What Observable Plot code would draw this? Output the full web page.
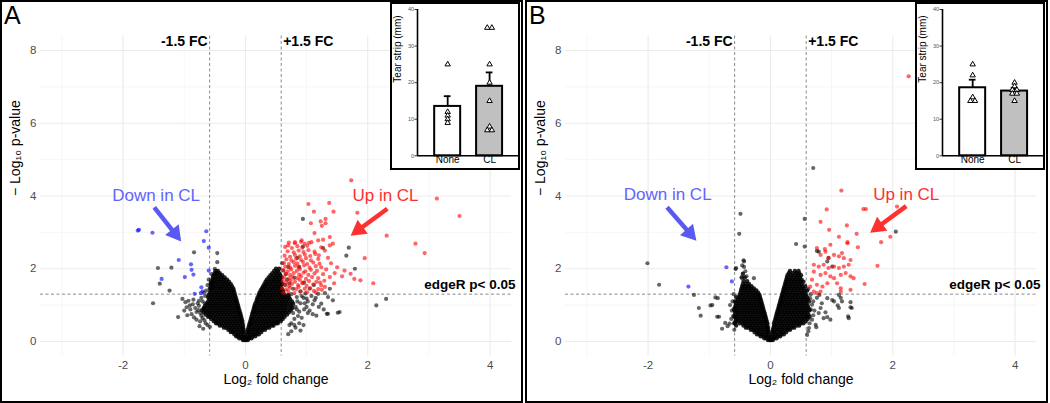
<!DOCTYPE html>
<html><head><meta charset="utf-8">
<script src="https://cdn.jsdelivr.net/npm/d3@7"></script>
<script src="https://cdn.jsdelivr.net/npm/@observablehq/plot@0.6"></script>
<style>
body{margin:0;background:#fff;font-family:'Liberation Sans',Arial,sans-serif}
#wrap{position:relative;width:1050px;height:403px;background:#fff}
.panel{position:absolute;top:0;width:523px;height:403px;border:2px solid #000;box-sizing:border-box;background:#fff}
.panel svg{position:absolute;left:0;top:0}
.letter{position:absolute;left:2px;top:1px;font-size:25px;line-height:25px;color:#000}
.inset{position:absolute;top:2px;width:130px;height:168px;border:2px solid #000;box-sizing:border-box;background:#fff}
.inset svg{position:absolute;left:0;top:0}
</style></head>
<body><div id="wrap"></div>
<script>
// ---------- DATA ----------
const fcLabel = 1.5, pLabel = 0.05;
const xTicks = [-2, 0, 2, 4];
const yTicks = [0, 2, 4, 6, 8];
const xMinor = [-3, -1, 1, 3];
const yMinor = [1, 3, 5, 7];

// Panel A - dense V cloud rows [y, [x...]] (black, not significant)
const aCloudRows = [
 [0.04,[-0.01,-0.04,0.01,0.04]],
 [0.09,[-0.02,-0.06,-0.1,0.02,0.06,0.1]],
 [0.14,[-0.02,-0.07,-0.12,-0.15,0.02,0.07,0.12,0.16]],
 [0.2,[-0.03,-0.08,-0.13,-0.18,0.03,0.08,0.13,0.18,0.22]],
 [0.26,[-0.03,-0.06,-0.11,-0.16,-0.21,-0.24,0.03,0.06,0.11,0.16,0.21,0.26]],
 [0.32,[-0.03,-0.08,-0.13,-0.18,-0.23,-0.28,0.04,0.08,0.13,0.18,0.23,0.28,0.32]],
 [0.38,[-0.04,-0.06,-0.11,-0.16,-0.21,-0.26,-0.31,-0.35,0.05,0.1,0.15,0.2,0.25,0.3,0.35,0.39]],
 [0.44,[-0.04,-0.08,-0.13,-0.18,-0.23,-0.28,-0.33,-0.38,-0.42,0.06,0.08,0.13,0.18,0.23,0.28,0.33,0.38,0.43,0.46]],
 [0.5,[-0.05,-0.1,-0.15,-0.2,-0.25,-0.3,-0.35,-0.4,-0.45,-0.48,0.07,0.1,0.15,0.2,0.25,0.3,0.35,0.4,0.45,0.5,0.53]],
 [0.56,[-0.05,-0.08,-0.13,-0.18,-0.23,-0.28,-0.33,-0.38,-0.43,-0.48,-0.52,0.08,0.13,0.18,0.23,0.28,0.33,0.38,0.43,0.48,0.53,0.58]],
 [0.62,[-0.06,-0.1,-0.15,-0.2,-0.25,-0.3,-0.35,-0.4,-0.45,-0.5,-0.56,0.09,0.11,0.16,0.21,0.26,0.31,0.36,0.41,0.46,0.51,0.56,0.61]],
 [0.68,[-0.07,-0.12,-0.17,-0.22,-0.27,-0.32,-0.37,-0.42,-0.47,-0.52,-0.57,-0.61,0.1,0.14,0.19,0.24,0.29,0.34,0.39,0.44,0.49,0.54,0.59,0.64]],
 [0.74,[-0.08,-0.1,-0.15,-0.2,-0.25,-0.3,-0.35,-0.4,-0.45,-0.5,-0.55,-0.6,-0.65,0.11,0.17,0.22,0.27,0.32,0.37,0.42,0.47,0.52,0.57,0.62,0.68]],
 [0.8,[-0.09,-0.13,-0.18,-0.23,-0.28,-0.33,-0.38,-0.43,-0.48,-0.53,-0.58,-0.63,-0.68,0.12,0.15,0.2,0.25,0.3,0.35,0.4,0.45,0.5,0.55,0.6,0.65,0.71]],
 [0.86,[-0.1,-0.15,-0.2,-0.25,-0.3,-0.35,-0.4,-0.45,-0.5,-0.55,-0.6,-0.66,-0.71,0.13,0.18,0.23,0.28,0.33,0.38,0.43,0.48,0.53,0.58,0.63,0.68,0.74]],
 [0.92,[-0.11,-0.13,-0.18,-0.23,-0.28,-0.33,-0.38,-0.43,-0.48,-0.53,-0.58,-0.63,-0.68,0.14,0.16,0.21,0.26,0.31,0.36,0.41,0.46,0.51,0.56,0.61,0.66,0.72,0.77]],
 [0.98,[-0.12,-0.16,-0.21,-0.26,-0.31,-0.36,-0.41,-0.46,-0.51,-0.56,-0.61,-0.66,0.15,0.19,0.24,0.29,0.34,0.39,0.44,0.49,0.54,0.59,0.64,0.69,0.75]],
 [1.04,[-0.13,-0.18,-0.23,-0.28,-0.33,-0.38,-0.43,-0.48,-0.53,-0.58,-0.63,0.16,0.22,0.27,0.32,0.37,0.42,0.47,0.52,0.57,0.62,0.67,0.73,0.78]],
 [1.1,[-0.14,-0.16,-0.21,-0.26,-0.31,-0.36,-0.41,-0.46,-0.51,-0.56,-0.61,0.18,0.2,0.25,0.3,0.35,0.4,0.45,0.5,0.55,0.6,0.65,0.7,0.76]],
 [1.16,[-0.15,-0.19,-0.24,-0.29,-0.34,-0.39,-0.44,-0.49,-0.54,-0.59,0.19,0.23,0.28,0.33,0.38,0.43,0.48,0.53,0.58,0.63,0.68,0.73]],
 [1.22,[-0.16,-0.21,-0.26,-0.31,-0.36,-0.41,-0.46,-0.51,-0.56,-0.61,0.2,0.26,0.31,0.36,0.41,0.46,0.51,0.56,0.61,0.66,0.71]],
 [1.28,[-0.17,-0.2,-0.25,-0.3,-0.35,-0.4,-0.45,-0.5,-0.55,-0.6,0.22,0.24,0.29,0.34,0.39,0.44,0.49,0.54,0.59,0.64,0.7]],
 [1.34,[-0.18,-0.23,-0.28,-0.33,-0.38,-0.43,-0.48,-0.53,-0.58,0.23,0.27,0.32,0.37,0.42,0.47,0.52,0.57,0.62]],
 [1.4,[-0.19,-0.22,-0.27,-0.32,-0.37,-0.42,-0.47,-0.52,-0.57,0.25,0.3,0.35,0.4,0.45,0.5,0.55,0.6]],
 [1.46,[-0.2,-0.25,-0.3,-0.35,-0.4,-0.45,-0.5,-0.55,-0.58,0.27,0.29,0.34,0.39,0.44,0.49,0.54,0.59]],
 [1.52,[-0.22,-0.27,-0.32,-0.37,-0.42,-0.47,-0.52,-0.56,0.29,0.32,0.37,0.42,0.47,0.52,0.57]],
 [1.58,[-0.24,-0.29,-0.34,-0.39,-0.44,-0.49,-0.54,-0.57,0.31,0.35,0.4,0.45,0.5,0.55,0.6]],
 [1.64,[-0.27,-0.32,-0.37,-0.42,-0.47,-0.52,-0.56,0.33,0.38,0.43,0.48,0.53,0.58]],
 [1.7,[-0.3,-0.35,-0.4,-0.45,-0.5,-0.54,0.35,0.41,0.46,0.51,0.56]],
 [1.76,[-0.34,-0.39,-0.44,-0.49,-0.53,0.38,0.44,0.49,0.54,0.59]],
 [1.82,[-0.38,-0.43,-0.48,-0.52,0.41,0.47,0.52,0.57]],
 [1.88,[-0.42,-0.46,-0.5,0.44,0.5,0.55]],
 [1.94,[-0.45,-0.49,0.47,0.53]],
 [2.0,[0.5,0.55]]
];
const aBlackOut = [[-0.84,2.45],[-0.46,2.43],[-0.46,2.18],[-1.43,2.02],[-1.21,2.03],[-1.40,1.59],[-1.24,1.40],[-1.51,1.05],[-1.10,0.67],[-0.75,0.42],[-1.03,1.17],[-0.91,0.99],[-0.96,0.94],[-0.80,0.81],[-0.72,0.71],[-0.68,0.9],[-0.7,1.1],[-0.66,1.25],[-0.64,1.4],[-0.62,1.55],[-0.6,1.7],[-0.55,1.85],[-0.5,2.0],[-0.85,1.15],[-0.78,1.05],[-0.74,0.55],[-0.8,0.6],[-0.88,0.75],[-0.69,0.35],[-0.76,0.98],[-0.72,1.2],[-0.65,0.5],
 [-0.98,1.08],[-0.93,1.12],[-0.86,1.02],[-0.82,0.92],[-0.77,0.86],[-0.74,0.78],[-0.7,0.64],[-0.67,0.58],[-0.62,0.45],[-0.58,0.4],[-0.9,0.88],[-1.0,0.85],[-0.95,0.72],[-0.84,0.66],[-0.76,1.12],[-0.68,1.34],[-0.66,1.05],
 [0.94,3.37],[1.27,2.57],[1.69,2.58],[1.65,2.36],[1.79,2.0],[2.14,0.99],[2.30,1.17],[1.51,0.79],[1.33,0.76],[1.16,0.71],[1.38,1.45],[1.30,1.33],[1.35,1.22],[1.19,1.31],[1.13,1.13],[1.24,1.04],[1.35,0.76],[1.54,0.81],[1.43,1.13],[0.94,2.61],[0.85,2.3],[0.95,1.2],[1.02,1.1],[1.08,1.25],[1.0,0.95],[1.05,0.85],[1.1,0.75],[0.92,0.65],[0.88,0.5],[0.95,0.45],[0.82,0.38],[0.9,0.3],[0.75,0.28],[0.7,0.2],[1.2,0.95],[1.28,0.88],[0.98,1.32],[0.9,1.38],[0.78,1.45],[0.72,1.6],[0.68,1.7],[0.8,1.75],[0.66,1.85],[0.62,1.95],[0.7,2.05],[0.6,2.15],[0.88,2.05],[1.05,1.45],[1.12,1.55],[0.96,1.62],[0.75,1.3],[0.62,1.4],[0.65,1.55],[0.85,1.1],[0.82,0.95],[0.88,0.82],[0.8,0.62],[0.75,0.5],
 [0.84,1.22],[0.9,1.05],[0.96,0.88],[1.02,0.78],[0.86,0.7],[0.78,0.78],[0.72,0.45],[0.8,0.45],[0.92,1.25],[1.0,1.18],[1.15,1.2],[1.1,1.02],[0.97,1.05],[0.84,0.88]];
const aRed = [[0.62,1.34],[0.7,1.38],[0.8,1.33],[0.9,1.37],[1.01,1.35],[1.12,1.39],
 [0.6,1.46],[0.67,1.43],[0.73,1.48],[0.83,1.44],[0.87,1.5],[0.97,1.45],[1.06,1.47],[1.19,1.44],
 [0.64,1.56],[0.71,1.53],[0.76,1.58],[0.86,1.55],[0.93,1.6],[1.0,1.53],[1.11,1.57],[1.24,1.54],
 [0.61,1.66],[0.67,1.63],[0.74,1.68],[0.81,1.64],[0.89,1.69],[0.94,1.62],[1.04,1.66],[1.16,1.64],[1.29,1.67],
 [0.63,1.76],[0.71,1.73],[0.77,1.78],[0.85,1.74],[0.91,1.79],[0.99,1.72],[1.09,1.77],[1.19,1.74],
 [0.66,1.86],[0.73,1.83],[0.79,1.88],[0.88,1.84],[0.95,1.89],[1.03,1.83],[1.13,1.87],[1.27,1.85],
 [0.61,1.96],[0.69,1.93],[0.75,1.98],[0.84,1.94],[0.89,1.99],[0.98,1.93],[1.07,1.97],[1.17,1.94],
 [0.65,2.06],[0.73,2.03],[0.81,2.08],[0.87,2.04],[0.96,2.09],[1.05,2.03],[1.15,2.07],[1.24,2.04],
 [0.63,2.16],[0.71,2.13],[0.79,2.18],[0.85,2.14],[0.94,2.19],[1.01,2.13],[1.11,2.17],[1.21,2.14],
 [0.67,2.26],[0.75,2.23],[0.83,2.28],[0.91,2.24],[0.99,2.29],[1.07,2.23],[1.19,2.27],
 [0.64,2.36],[0.73,2.33],[0.81,2.38],[0.89,2.34],[0.97,2.39],[1.06,2.35],[1.2,2.37],
 [0.69,2.48],[0.79,2.45],[0.87,2.5],[0.95,2.46],[1.03,2.51],[1.13,2.47],
 [0.65,2.6],[0.76,2.57],[0.85,2.62],[0.93,2.58],[1.01,2.63],
 [0.71,2.72],[0.81,2.7],[0.91,2.74],[1.04,2.71],
 [1.73,4.43],[3.13,3.93],[3.50,3.45],[1.03,3.78],[1.37,3.81],[1.12,3.57],[1.44,3.57],[1.83,3.54],[1.07,3.25],[1.23,3.30],[1.31,3.37],[1.31,3.25],[1.25,3.18],[1.13,2.98],[2.31,2.91],[2.78,2.69],[2.93,2.43],[1.95,2.29],[2.09,1.60],[1.88,1.68],[1.72,1.86],[1.78,1.72],[1.58,1.79],[1.62,1.95],[1.50,2.04],[1.46,1.88],[1.38,1.77],[1.38,2.87],[1.27,2.80],[1.43,2.69],[1.30,2.50],[1.19,2.78],[1.08,2.73],[0.97,2.69],[0.92,2.78],[0.81,2.73],[0.70,2.64],[1.38,2.64],[1.24,2.59],[1.14,2.41],[1.35,2.3],[1.4,2.15],[1.32,1.98],[1.45,1.6],[1.3,1.5],[1.25,1.42],[1.15,1.35],[1.22,1.62]];
const aBlue = [[-1.76,3.05],[-1.74,3.07],[-1.52,2.99],[-0.64,3.03],[-0.68,2.76],[-0.60,2.58],[-1.09,2.24],[-0.89,2.12],[-0.88,1.97],[-0.85,1.84],[-0.99,1.77],[-0.60,1.95],[-1.37,1.72],[-0.72,1.49],[-0.83,1.31],[-0.73,1.33],[-0.70,1.38]];

// Panel B
const bCloudRows = [
 [0.04,[-0.01,-0.04,0.01,0.04]],
 [0.09,[-0.02,-0.06,-0.1,0.02,0.06,0.1]],
 [0.14,[-0.02,-0.07,-0.12,-0.16,0.02,0.07,0.12,0.16]],
 [0.2,[-0.03,-0.08,-0.13,-0.18,-0.22,0.03,0.08,0.13,0.18,0.22]],
 [0.26,[-0.03,-0.06,-0.11,-0.16,-0.21,-0.26,0.03,0.06,0.11,0.16,0.21,0.26]],
 [0.32,[-0.04,-0.08,-0.13,-0.18,-0.23,-0.28,-0.32,0.04,0.08,0.13,0.18,0.23,0.28,0.32]],
 [0.38,[-0.04,-0.06,-0.11,-0.16,-0.21,-0.26,-0.31,-0.36,-0.4,0.05,0.1,0.15,0.2,0.25,0.3,0.35,0.39]],
 [0.44,[-0.05,-0.09,-0.14,-0.19,-0.24,-0.29,-0.34,-0.39,-0.44,-0.56,0.06,0.08,0.13,0.18,0.23,0.28,0.33,0.38,0.43,0.47]],
 [0.5,[-0.05,-0.1,-0.15,-0.2,-0.25,-0.3,-0.35,-0.4,-0.45,-0.5,-0.58,0.06,0.1,0.15,0.2,0.25,0.3,0.35,0.4,0.45,0.5,0.54]],
 [0.56,[-0.06,-0.08,-0.13,-0.18,-0.23,-0.28,-0.33,-0.38,-0.43,-0.48,-0.53,-0.57,0.07,0.13,0.18,0.23,0.28,0.33,0.38,0.43,0.48,0.53,0.58]],
 [0.62,[-0.07,-0.11,-0.16,-0.21,-0.26,-0.31,-0.36,-0.41,-0.46,-0.51,-0.56,0.08,0.11,0.16,0.21,0.26,0.31,0.36,0.41,0.46,0.51,0.56,0.61]],
 [0.68,[-0.08,-0.1,-0.15,-0.2,-0.25,-0.3,-0.35,-0.4,-0.45,-0.5,-0.55,-0.59,0.09,0.14,0.19,0.24,0.29,0.34,0.39,0.44,0.49,0.54,0.59,0.64]],
 [0.74,[-0.09,-0.13,-0.18,-0.23,-0.28,-0.33,-0.38,-0.43,-0.48,-0.53,-0.58,0.1,0.12,0.17,0.22,0.27,0.32,0.37,0.42,0.47,0.52,0.57,0.62]],
 [0.8,[-0.1,-0.12,-0.17,-0.22,-0.27,-0.32,-0.37,-0.42,-0.47,-0.52,-0.57,0.11,0.15,0.2,0.25,0.3,0.35,0.4,0.45,0.5,0.55,0.6]],
 [0.86,[-0.11,-0.15,-0.2,-0.25,-0.3,-0.35,-0.4,-0.45,-0.5,-0.55,-0.59,0.12,0.14,0.19,0.24,0.29,0.34,0.39,0.44,0.49,0.54,0.59,0.64]],
 [0.92,[-0.12,-0.14,-0.19,-0.24,-0.29,-0.34,-0.39,-0.44,-0.49,-0.54,-0.58,0.13,0.17,0.22,0.27,0.32,0.37,0.42,0.47,0.52,0.57,0.62]],
 [0.98,[-0.13,-0.17,-0.22,-0.27,-0.32,-0.37,-0.42,-0.47,-0.52,-0.57,0.14,0.16,0.21,0.26,0.31,0.36,0.41,0.46,0.51,0.56,0.61]],
 [1.04,[-0.14,-0.16,-0.21,-0.26,-0.31,-0.36,-0.41,-0.46,-0.51,-0.56,0.15,0.19,0.24,0.29,0.34,0.39,0.44,0.49,0.54,0.59]],
 [1.1,[-0.15,-0.19,-0.24,-0.29,-0.34,-0.39,-0.44,-0.49,-0.54,-0.58,0.16,0.18,0.23,0.28,0.33,0.38,0.43,0.48,0.53,0.58,0.63]],
 [1.16,[-0.16,-0.18,-0.23,-0.28,-0.33,-0.38,-0.43,-0.48,-0.53,0.17,0.21,0.26,0.31,0.36,0.41,0.46,0.51,0.56,0.61]],
 [1.22,[-0.17,-0.21,-0.26,-0.31,-0.36,-0.41,-0.46,-0.51,-0.56,0.18,0.2,0.25,0.3,0.35,0.4,0.45,0.5,0.55,0.6]],
 [1.28,[-0.18,-0.2,-0.25,-0.3,-0.35,-0.4,-0.45,-0.5,0.19,0.23,0.28,0.33,0.38,0.43,0.48,0.53,0.58]],
 [1.34,[-0.2,-0.24,-0.29,-0.34,-0.39,-0.44,-0.49,0.2,0.22,0.27,0.32,0.37,0.42,0.47,0.52,0.57]],
 [1.4,[-0.23,-0.28,-0.33,-0.38,-0.43,-0.48,0.21,0.25,0.3,0.35,0.4,0.45,0.5,0.55,0.6]],
 [1.46,[-0.27,-0.32,-0.37,-0.42,-0.47,0.22,0.24,0.29,0.34,0.39,0.44,0.49,0.54]],
 [1.52,[-0.31,-0.36,-0.41,-0.46,0.23,0.27,0.32,0.37,0.42,0.47,0.52,0.57]],
 [1.58,[-0.35,-0.4,-0.45,0.24,0.26,0.31,0.36,0.41,0.46,0.51]],
 [1.64,[0.25,0.29,0.34,0.39,0.44,0.49,0.54]],
 [1.66,[-0.38,-0.44]],
 [1.7,[0.26,0.31,0.36,0.41,0.46,0.51]],
 [1.76,[-0.42,-0.47,0.27,0.33,0.38,0.43,0.48]],
 [1.82,[0.28,0.34,0.4,0.45,0.5]],
 [1.86,[-0.45]],
 [1.88,[0.3,0.36,0.42,0.47]],
 [1.94,[0.32,0.4,0.46]]
];
const bBlackOut = [[0.70,4.77],[-0.49,3.51],[-0.51,2.96],[-2.01,2.15],[-1.82,1.56],[-1.25,1.28],[-1.17,0.92],[-1.14,0.71],[-0.90,1.21],[-0.98,0.99],[-0.87,0.68],[-0.74,0.51],[-0.67,0.49],[0.56,3.37],[0.42,2.68],[0.56,2.61],[0.76,2.49],[0.93,2.20],[1.01,2.06],[2.05,3.02],[-0.56,2.02],[-0.44,2.23],[-0.46,2.09],[1.10,0.99],[1.31,1.08],[1.31,0.94],[1.27,0.69],[0.93,0.67],[0.75,0.39],[1.15,1.20],[1.01,1.14],[0.80,1.28],[1.12,1.28],[1.17,1.10],[1.33,0.92],[1.28,0.64],[0.98,0.60],[0.87,0.64],[0.82,0.92],[0.68,1.01],[0.65,1.19],[0.93,1.19],[1.04,1.10],[1.12,0.92],[0.74,0.46],[0.79,0.78],[0.60,0.69],[0.63,0.37],[0.60,0.18],[-0.57,1.99],[-0.43,2.05],[-0.41,1.93],[-0.39,1.79],[-0.27,1.74],[-0.43,2.2],[-0.95,1.0],[-0.86,1.19],[-0.84,0.68],[-0.6,1.3],[-0.62,1.1],[-0.6,0.9],[-0.61,0.7],[-0.6,0.5],[-0.59,0.32],[-0.79,0.35],[0.79,2.47],[0.95,2.3],[0.7,1.1],[0.72,0.85],[0.68,0.6],[0.66,1.3],[0.62,1.45],
 [0.66,0.88],[0.7,0.72],[0.64,0.5],[0.76,1.2],[0.84,1.05],[0.9,0.8],[0.62,0.28],[-0.64,0.62],[-0.63,0.85],[-0.66,1.0],[-0.7,0.42]];
const bRed = [[0.76,2.57],[0.82,2.38],[0.90,2.47],[0.95,2.29],[1.04,2.38],[1.12,2.34],[1.17,2.43],[1.20,2.29],[1.31,2.24],[0.71,2.11],[0.79,2.06],[0.87,2.11],[0.95,2.02],[1.04,2.06],[1.12,2.02],[1.20,2.06],[1.28,2.11],[1.23,1.88],[1.31,1.79],[1.36,1.74],[0.71,1.92],[0.82,1.83],[0.90,1.88],[0.98,1.79],[1.04,1.74],[1.15,1.83],[1.09,1.60],[0.93,1.60],[0.85,1.51],[0.76,1.56],[0.68,1.70],[0.65,1.51],[0.71,1.37],[0.82,1.37],[1.15,1.46],[1.31,1.42],[0.76,1.33],[1.15,1.37],
 [2.26,7.29],[1.16,4.15],[0.92,3.63],[1.52,3.64],[1.56,3.64],[2.07,3.71],[0.82,3.29],[1.25,3.19],[0.96,3.07],[1.41,2.96],[1.12,2.88],[1.26,2.73],[1.26,2.70],[1.81,2.73],[1.96,2.88],[1.43,2.59],[0.89,2.54],[0.98,2.66],[1.75,2.08],[1.54,1.58]];
const bBlue = [[-0.72,2.04],[-0.63,1.65],[-1.34,1.51]];

// annotations (data coordinates): label centres and arrows [x1,y1,x2,y2,colour]
const aNotes = {down: [-1.46, 4.0], up: [2.29, 4.0], arrows: [[-1.49,3.69,-1.05,2.75,"blue"],[2.32,3.65,1.72,2.91,"red"]]};
const bNotes = {down: [-1.68, 4.05], up: [2.22, 4.05], arrows: [[-1.69,3.69,-1.21,2.77,"blue"],[2.22,3.72,1.63,2.99,"red"]]};

// Inset bar charts (tear strip, mm)
const groups = ["None", "CL"];
const insetTicks = [0, 10, 20, 30, 40];
const aMean = [13.5, 19.0], aSem = [2.8, 3.8];
const aNone = [25, 12, 11, 10, 9], aCL = [35, 35, 25, 20, 15, 8, 7, 7];
const bMean = [18.6, 17.7], bSem = [2.2, 0.9];
const bNone = [25, 22, 16, 15, 15], bCL = [20, 19, 18, 18, 17, 17, 15];

// ---------- DRAWING ----------
const FC = Math.log2(fcLabel), PT = -Math.log10(pLabel);
const font = "'Liberation Sans', Arial, Helvetica, sans-serif";
const fromRows = rows => rows.flatMap(([y, xs]) => xs.map(x => ({x, y})));
const fromPairs = arr => arr.map(([x, y]) => ({x, y}));
const colors = {blue: "#5a5af2", red: "#ff3030"};

const VW = 519, VH = 399, ML = 38, MR = 10, MT = 33.5, MB = 45.5;
const XD = [-3.35, 4.35], YD = [-0.4, 8.4];
const kx = (VW - ML - MR) / (XD[1] - XD[0]), ky = (VH - MT - MB) / (YD[1] - YD[0]);
const HEAD_LEN = 15, HY = HEAD_LEN / 3;
const HEAD_R = HY * Math.sqrt(3 * Math.sqrt(3) / Math.PI);

function arrowParts(list) {
  return list.map(([x1, y1, x2, y2, c]) => {
    const px = (x2 - x1) * kx, py = -(y2 - y1) * ky, len = Math.hypot(px, py);
    const ux = px / len, uy = py / len;
    const cx = x2 - 2 * HY * ux / kx, cy = y2 + 2 * HY * uy / ky;
    return {x1, y1, cx, cy, c, rot: Math.atan2(ux, -uy) * 180 / Math.PI};
  });
}

function volcano(cloud, black, red, blue, notes) {
  const arrows = arrowParts(notes.arrows);
  return Plot.plot({
    width: VW, height: VH,
    marginLeft: ML, marginRight: MR, marginTop: MT, marginBottom: MB,
    style: {fontFamily: font, fontSize: "11.5px", background: "transparent", overflow: "visible"},
    x: {domain: XD},
    y: {domain: YD},
    marks: [
      Plot.ruleX(xMinor, {stroke: "#f4f4f4", strokeWidth: 0.8}),
      Plot.ruleY(yMinor, {stroke: "#f4f4f4", strokeWidth: 0.8}),
      Plot.ruleX(xTicks, {stroke: "#ebebeb", strokeWidth: 1.1}),
      Plot.ruleY(yTicks, {stroke: "#ebebeb", strokeWidth: 1.1}),
      Plot.ruleX([-FC, FC], {stroke: "#8a8a8a", strokeWidth: 1, strokeDasharray: "3,2.5"}),
      Plot.ruleY([PT], {stroke: "#8a8a8a", strokeWidth: 1, strokeDasharray: "3,2.5"}),
      Plot.dot(cloud, {x: "x", y: "y", r: 2.2, fill: "#000", fillOpacity: 0.85, stroke: null}),
      Plot.dot(black, {x: "x", y: "y", r: 2.1, fill: "#000", fillOpacity: 0.6, stroke: null}),
      Plot.dot(red, {x: "x", y: "y", r: 2.1, fill: "#ff0000", fillOpacity: 0.6, stroke: null}),
      Plot.dot(blue, {x: "x", y: "y", r: 2.1, fill: "#0000ff", fillOpacity: 0.6, stroke: null}),
      Plot.text(["-1.5 FC"], {x: -FC, y: 8.25, text: d => d, textAnchor: "end", dx: -2, fontWeight: "bold", fontSize: 14, fill: "#000"}),
      Plot.text(["+1.5 FC"], {x: FC, y: 8.25, text: d => d, textAnchor: "start", dx: 2, fontWeight: "bold", fontSize: 14, fill: "#000"}),
      Plot.text(["edgeR p< 0.05"], {x: XD[1], y: 1.55, text: d => d, textAnchor: "end", dx: 4, fontWeight: "bold", fontSize: 13.5, fill: "#000"}),
      Plot.text(["Down in CL"], {x: notes.down[0], y: notes.down[1], text: d => d, fontSize: 17, fill: "#6363ff"}),
      Plot.text(["Up in CL"], {x: notes.up[0], y: notes.up[1], text: d => d, fontSize: 17, fill: "#ff2e2e"}),
      Plot.link(arrows, {x1: "x1", y1: "y1", x2: "cx", y2: "cy", stroke: d => colors[d.c], strokeWidth: 4.5}),
      Plot.dot(arrows, {x: "cx", y: "cy", symbol: "triangle", r: HEAD_R, rotate: "rot", fill: d => colors[d.c], stroke: null}),
      Plot.axisX({ticks: xTicks, tickSize: 0, tickPadding: 5, tickFormat: d => String(d), label: null, fill: "#4d4d4d", fontSize: 11.5}),
      Plot.axisY({ticks: yTicks, tickSize: 0, tickPadding: 4, tickFormat: d => String(d), label: null, fill: "#4d4d4d", fontSize: 11.5}),
      Plot.text(["Log\u2082 fold change"], {frameAnchor: "bottom", dy: 27.5, text: d => d, fontSize: 14, fill: "#000"}),
      Plot.text(["\u2212 Log\u2081\u2080 p-value"], {frameAnchor: "left", dx: -25, rotate: -90, text: d => d, fontSize: 14, fill: "#000"})
    ]
  });
}

function inset(mean, sem, none, cl) {
  const bars = groups.map((g, i) => ({g, i, mean: mean[i], top: mean[i] + sem[i]}));
  const pts = [];
  [none, cl].forEach((vals, i) => {
    const counts = {}, seen = {};
    vals.forEach(v => counts[v] = (counts[v] || 0) + 1);
    vals.forEach(v => { const k = seen[v] = (seen[v] || 0); seen[v]++; pts.push({x: i + (k - (counts[v] - 1) / 2) * 0.11, y: v}); });
  });
  return Plot.plot({
    width: 126, height: 164,
    marginLeft: 25, marginRight: 0, marginTop: 5, marginBottom: 12.7,
    style: {fontFamily: font, fontSize: "8px", background: "transparent", overflow: "visible"},
    x: {domain: [-0.72, 1.69], axis: null},
    y: {domain: [0, 40], axis: null},
    marks: [
      Plot.rectY(bars, {x1: d => d.i - 0.31, x2: d => d.i + 0.31, y1: 0, y2: "mean", fill: d => d.i ? "#c0c0c0" : "#fff", stroke: "#000", strokeWidth: 2}),
      Plot.ruleX(bars, {x: "i", y1: "mean", y2: "top", stroke: "#000", strokeWidth: 1.8}),
      Plot.ruleY(bars, {y: "top", x1: d => d.i - 0.08, x2: d => d.i + 0.08, stroke: "#000", strokeWidth: 1.8}),
      Plot.dot(pts, {x: "x", y: "y", symbol: "triangle", r: 2, fill: "#fff", stroke: "#000", strokeWidth: 1}),
      Plot.ruleX([-0.72], {y1: 0, y2: 40, stroke: "#000", strokeWidth: 1.6}),
      Plot.ruleY([0], {stroke: "#000", strokeWidth: 1.6}),
      Plot.axisY({ticks: insetTicks, tickSize: 2.5, tickPadding: 1, label: null, fontSize: 5.5, fill: "#555", stroke: "#333"}),
      Plot.text(bars, {x: "i", text: "g", frameAnchor: "bottom", dy: 7.5, fontSize: 10, fill: "#000"}),
      Plot.text(["Tear strip (mm)"], {frameAnchor: "left", dx: -20, rotate: -90, text: d => d, fontSize: 10, fill: "#000"})
    ]
  });
}

const wrap = document.getElementById("wrap");
function addPanel(left, letter, svg) {
  const p = document.createElement("div");
  p.className = "panel"; p.style.left = left + "px";
  p.appendChild(svg);
  const l = document.createElement("div"); l.className = "letter"; l.textContent = letter;
  p.appendChild(l);
  wrap.appendChild(p);
}
function addInset(left, svg) {
  const d = document.createElement("div");
  d.className = "inset"; d.style.left = left + "px";
  d.appendChild(svg);
  wrap.appendChild(d);
}

addPanel(0, "A", volcano(fromRows(aCloudRows), fromPairs(aBlackOut), fromPairs(aRed), fromPairs(aBlue), aNotes));
addPanel(525, "B", volcano(fromRows(bCloudRows), fromPairs(bBlackOut), fromPairs(bRed), fromPairs(bBlue), bNotes));
addInset(390, inset(aMean, aSem, aNone, aCL));
addInset(915, inset(bMean, bSem, bNone, bCL));
</script></body></html>
